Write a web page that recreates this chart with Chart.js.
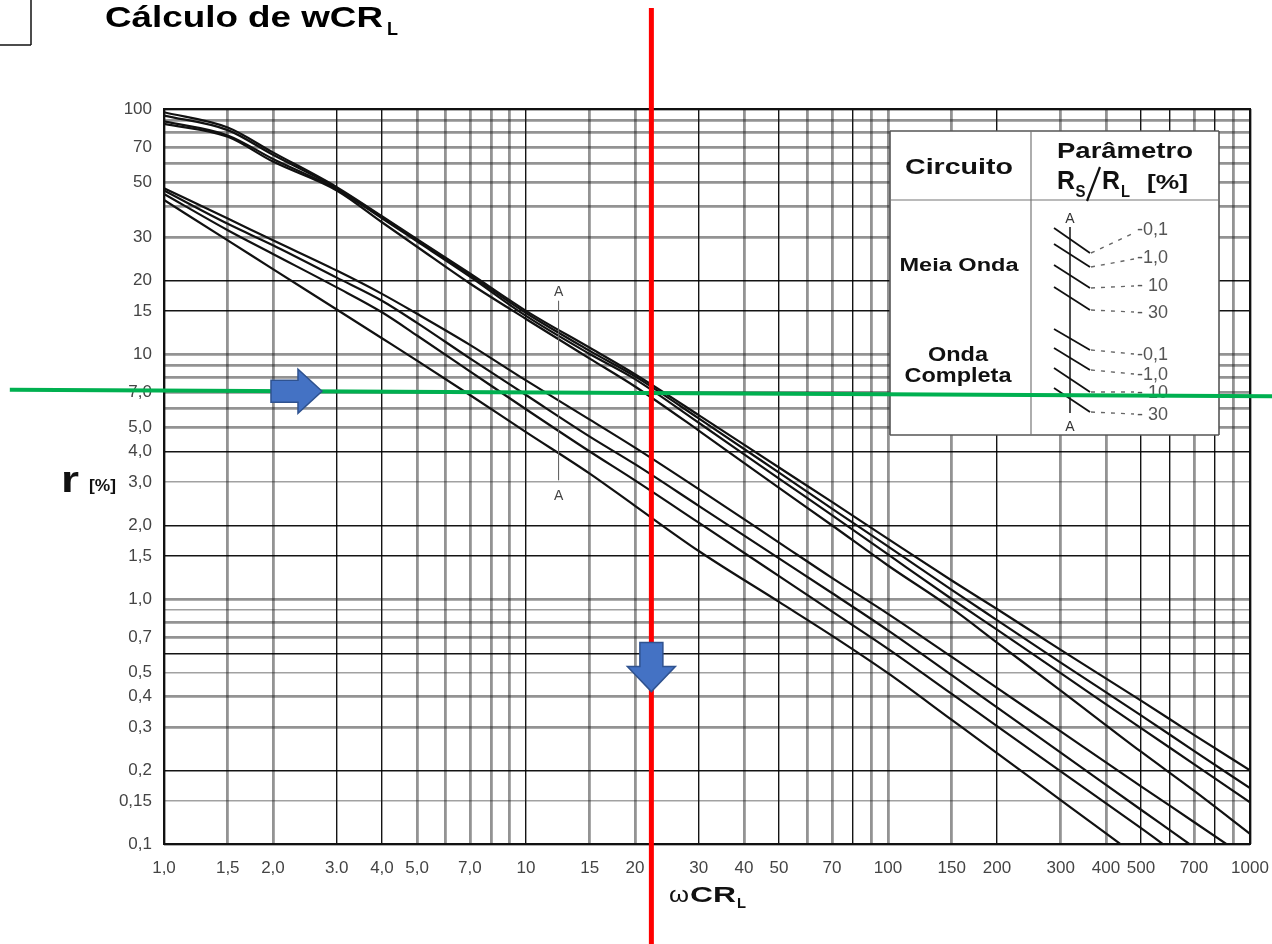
<!DOCTYPE html>
<html>
<head>
<meta charset="utf-8">
<script src="https://cdn.jsdelivr.net/npm/chart.js@4.4.1/dist/chart.umd.min.js"></script>
<style>
  html, body { margin: 0; padding: 0; background: #fff; }
  #wrap { position: relative; width: 1272px; height: 944px; }
</style>
</head>
<body>
<div id="wrap"><canvas id="chart"></canvas></div>
<script>
// ωCRL sample points shared by every curve
const OMEGA_CRL = [1, 1.5, 2, 3, 4, 5, 7, 10, 15, 20, 30, 50, 70, 100, 150, 200, 300, 500, 700, 1000];

// Meia onda (half-wave) ripple r [%] for RS/RL = 0,1 / 1,0 / 10 / 30 %
const HALF_0_1 = [97, 84, 66.5, 48, 36.5, 29.4, 21.3, 15.0, 10.6, 8.27, 5.63, 3.44, 2.49, 1.76, 1.19, 0.91, 0.62, 0.385, 0.279, 0.20];
const HALF_1   = [94, 82, 65, 47.5, 36.2, 29.2, 21.0, 14.7, 10.3, 8.1, 5.46, 3.28, 2.34, 1.64, 1.09, 0.82, 0.55, 0.335, 0.24, 0.169];
const HALF_10  = [89, 78, 62.5, 47, 35.8, 28.8, 20.7, 14.3, 10.0, 7.9, 5.24, 3.1, 2.2, 1.52, 1.0, 0.75, 0.498, 0.297, 0.212, 0.148];
const HALF_30  = [87, 77, 61, 46.5, 34.5, 27.4, 19.4, 13.9, 9.58, 7.37, 4.87, 2.84, 2.0, 1.37, 0.915, 0.664, 0.423, 0.238, 0.165, 0.11];

// Onda completa (full-wave) ripple r [%] for the same RS/RL values
const FULL_0_1 = [47.5, 35.7, 29.1, 21.9, 17.6, 14.6, 10.9, 7.8, 5.4, 4.15, 2.81, 1.70, 1.22, 0.87, 0.58, 0.434, 0.288, 0.172, 0.123, 0.086];
const FULL_1   = [46.5, 34.0, 27.8, 20.5, 16.5, 13.4, 9.6, 6.8, 4.6, 3.55, 2.40, 1.465, 1.058, 0.745, 0.489, 0.361, 0.236, 0.138, 0.097, 0.066];
const FULL_10  = [45, 32.0, 25.6, 18.7, 14.8, 11.9, 8.5, 5.95, 4.0, 3.05, 2.05, 1.24, 0.89, 0.626, 0.41, 0.303, 0.198, 0.116, 0.081, 0.057];
const FULL_30  = [42.5, 29.1, 22.2, 15.2, 11.6, 9.4, 6.8, 4.8, 3.25, 2.4, 1.57, 0.973, 0.709, 0.498, 0.321, 0.235, 0.151, 0.0865, 0.059, 0.04];

const RS_RL_LABELS = ['-0,1', '-1,0', '- 10', '- 30'];

// grid values and tick texts
const X_GRID = [1, 1.5, 2, 3, 4, 5, 6, 7, 8, 9, 10, 15, 20, 30, 40, 50, 60, 70, 80, 90, 100, 150, 200, 300, 400, 500, 600, 700, 800, 900, 1000];
const Y_GRID = [0.1, 0.15, 0.2, 0.3, 0.4, 0.5, 0.6, 0.7, 0.8, 0.9, 1, 1.5, 2, 3, 4, 5, 6, 7, 8, 9, 10, 15, 20, 30, 40, 50, 60, 70, 80, 90, 100];
const X_TICK_TEXT = { 1: '1,0', 1.5: '1,5', 2: '2,0', 3: '3.0', 4: '4,0', 5: '5,0', 7: '7,0', 10: '10', 15: '15', 20: '20',
  30: '30', 40: '40', 50: '50', 70: '70', 100: '100', 150: '150', 200: '200', 300: '300', 400: '400', 500: '500', 700: '700', 1000: '1000' };
const Y_TICK_TEXT = { 100: '100', 70: '70', 50: '50', 30: '30', 20: '20', 15: '15', 10: '10', 7: '7,0', 5: '5,0', 4: '4,0', 3: '3,0',
  2: '2,0', 1.5: '1,5', 1: '1,0', 0.7: '0,7', 0.5: '0,5', 0.4: '0,4', 0.3: '0,3', 0.2: '0,2', 0.15: '0,15', 0.1: '0,1' };

// worked example: ωCRL read for r = 7 %
const GUIDE_WCRL = 22.2;
const GUIDE_R_ENDS = [7.15, 6.72];
const GUIDE_X_ENDS = [0.375, 1160];
const ARROW_RIGHT_AT = 2.33;   // ωCRL where the horizontal arrow sits
const ARROW_DOWN_AT = 0.53;    // r where the vertical arrow sits

// A–A reading marker inside the plot
const MARK_A_X = 12.3;
const MARK_A_R = [16.5, 3.05];

// gridline weights
const X_GRID_DARK = new Set([3, 4, 10, 30, 50, 80, 200, 500, 600, 800]);
const Y_GRID_DARK = new Set([0.2, 0.6, 1.5, 2, 4, 15, 20]);
const Y_GRID_LIGHT = new Set([0.15, 0.5, 0.9, 3]);
const GRID_STYLE = {
  dark:  { color: 'rgba(0,0,0,0.92)', width: 1.4 },
  soft:  { color: 'rgba(30,30,30,0.48)', width: 2.8 },
  light: { color: 'rgba(30,30,30,0.42)', width: 1.6 }
};
function gridKind(v, dark, light) {
  if (dark.has(v)) return 'dark';
  if (light && light.has(v)) return 'light';
  return 'soft';
}

const FONT = '"Liberation Sans", Arial, Helvetica, sans-serif';

function series(label, values) {
  return {
    label,
    data: OMEGA_CRL.map((x, i) => ({ x, y: values[i] })),
    borderColor: '#111',
    borderWidth: 2.2,
    pointRadius: 0,
    fill: false,
    cubicInterpolationMode: 'monotone'
  };
}

// text squeezed/stretched horizontally to a given width
function fitText(ctx, txt, x, y, font, width, align, color) {
  ctx.save();
  ctx.font = font;
  ctx.fillStyle = color || '#000';
  ctx.textBaseline = 'alphabetic';
  ctx.textAlign = align || 'left';
  const w = ctx.measureText(txt).width;
  const s = width ? width / w : 1;
  ctx.translate(x, y);
  ctx.scale(s, 1);
  ctx.fillText(txt, 0, 0);
  ctx.restore();
}

function line(ctx, x1, y1, x2, y2, color, width, dash) {
  ctx.save();
  ctx.strokeStyle = color;
  ctx.lineWidth = width;
  ctx.setLineDash(dash || []);
  ctx.beginPath();
  ctx.moveTo(x1, y1);
  ctx.lineTo(x2, y2);
  ctx.stroke();
  ctx.restore();
}

function arrowRight(ctx, tipX, cy) {
  const bodyLen = 27, headLen = 24, bodyH = 11, headH = 22;
  const x0 = tipX - headLen - bodyLen, xb = tipX - headLen;
  ctx.save();
  ctx.beginPath();
  ctx.moveTo(x0, cy - bodyH);
  ctx.lineTo(xb, cy - bodyH);
  ctx.lineTo(xb, cy - headH);
  ctx.lineTo(tipX, cy);
  ctx.lineTo(xb, cy + headH);
  ctx.lineTo(xb, cy + bodyH);
  ctx.lineTo(x0, cy + bodyH);
  ctx.closePath();
  ctx.fillStyle = '#4472C4';
  ctx.fill();
  ctx.strokeStyle = '#2F528F';
  ctx.lineWidth = 1.5;
  ctx.stroke();
  ctx.restore();
}

function arrowDown(ctx, cx, tipY) {
  const bodyLen = 24, headLen = 25, bodyW = 11.5, headW = 24;
  const y0 = tipY - headLen - bodyLen, yb = tipY - headLen;
  ctx.save();
  ctx.beginPath();
  ctx.moveTo(cx - bodyW, y0);
  ctx.lineTo(cx + bodyW, y0);
  ctx.lineTo(cx + bodyW, yb);
  ctx.lineTo(cx + headW, yb);
  ctx.lineTo(cx, tipY);
  ctx.lineTo(cx - headW, yb);
  ctx.lineTo(cx - bodyW, yb);
  ctx.closePath();
  ctx.fillStyle = '#4472C4';
  ctx.fill();
  ctx.strokeStyle = '#2F528F';
  ctx.lineWidth = 1.5;
  ctx.stroke();
  ctx.restore();
}

function drawLegendBox(ctx) {
  const L = 890, R = 1219, T = 131, B = 435, MID = 1031, HEAD = 200;
  ctx.save();
  ctx.fillStyle = '#fff';
  ctx.fillRect(L, T, R - L, B - T);
  ctx.restore();
  line(ctx, L, T, R, T, '#555', 1.6);
  line(ctx, L, B, R, B, '#555', 1.6);
  line(ctx, L, T, L, B, '#555', 1.6);
  line(ctx, R, T, R, B, '#555', 1.6);
  line(ctx, MID, T, MID, B, '#777', 1.2);
  line(ctx, L, HEAD, R, HEAD, '#777', 1.2);

  fitText(ctx, 'Circuito', 959, 174, 'bold 22px ' + FONT, 108, 'center', '#111');
  fitText(ctx, 'Parâmetro', 1057, 158, 'bold 22px ' + FONT, 136, 'left', '#111');
  fitText(ctx, 'R', 1057, 189, 'bold 25px ' + FONT, 18, 'left', '#111');
  fitText(ctx, 'S', 1075.5, 197, 'bold 16px ' + FONT, 10, 'left', '#111');
  line(ctx, 1087, 201, 1100, 167, '#111', 2.2);
  fitText(ctx, 'R', 1102, 189, 'bold 25px ' + FONT, 18, 'left', '#111');
  fitText(ctx, 'L', 1121, 197, 'bold 16px ' + FONT, 9, 'left', '#111');
  fitText(ctx, '[%]', 1147, 189, 'bold 21px ' + FONT, 41, 'left', '#111');

  fitText(ctx, 'Meia Onda', 959, 271, 'bold 18px ' + FONT, 119, 'center', '#111');
  fitText(ctx, 'Onda', 958, 361, 'bold 20px ' + FONT, 60, 'center', '#111');
  fitText(ctx, 'Completa', 958, 382, 'bold 20px ' + FONT, 107, 'center', '#111');

  // RS/RL key: A–A axis, curve strokes, leaders and values
  line(ctx, 1070, 227, 1070, 413, '#222', 1.6);
  fitText(ctx, 'A', 1070, 223, '14px ' + FONT, 0, 'center', '#333');
  fitText(ctx, 'A', 1070, 431, '14px ' + FONT, 0, 'center', '#333');
  const halfStrokes = [[228, 253], [244, 267], [265, 288], [287, 310]];
  const halfLeaders = [[253, 233], [267, 259], [288, 286], [310, 312]];
  const halfText = [235, 263, 291, 318];
  const fullStrokes = [[329, 350], [348, 370], [368, 392], [388, 412]];
  const fullLeaders = [[350, 354], [370, 374], [392, 392], [412, 414]];
  const fullText = [360, 380, 398, 420];
  for (let i = 0; i < 4; i++) {
    line(ctx, 1054, halfStrokes[i][0], 1090, halfStrokes[i][1], '#111', 1.8);
    line(ctx, 1091, halfLeaders[i][0], 1134, halfLeaders[i][1], '#666', 1.4, [4, 6]);
    fitText(ctx, RS_RL_LABELS[i], 1137, halfText[i], '18px ' + FONT, 0, 'left', '#555');
    line(ctx, 1054, fullStrokes[i][0], 1090, fullStrokes[i][1], '#111', 1.8);
    line(ctx, 1091, fullLeaders[i][0], 1134, fullLeaders[i][1], '#666', 1.4, [4, 6]);
    fitText(ctx, RS_RL_LABELS[i], 1137, fullText[i], '18px ' + FONT, 0, 'left', '#555');
  }
}

const sheetPlugin = {
  id: 'sheet',
  beforeDraw(chart) {
    const ctx = chart.ctx;
    ctx.save();
    ctx.fillStyle = '#fff';
    ctx.fillRect(0, 0, chart.width, chart.height);
    ctx.restore();
  },
  afterDatasetsDraw(chart) {
    const ctx = chart.ctx;
    const a = chart.chartArea;
    const xs = chart.scales.x, ys = chart.scales.y;

    // plot frame
    ctx.save();
    ctx.strokeStyle = '#111';
    ctx.lineWidth = 2;
    ctx.strokeRect(a.left, a.top, a.right - a.left, a.bottom - a.top);
    ctx.restore();

    // A–A marker
    const mx = xs.getPixelForValue(MARK_A_X);
    const my1 = ys.getPixelForValue(MARK_A_R[0]);
    const my2 = ys.getPixelForValue(MARK_A_R[1]);
    line(ctx, mx, my1, mx, my2, '#666', 1.1);
    fitText(ctx, 'A', mx, my1 - 5, '14px ' + FONT, 0, 'center', '#444');
    fitText(ctx, 'A', mx, my2 + 20, '14px ' + FONT, 0, 'center', '#444');

    drawLegendBox(ctx);
  },
  afterDraw(chart) {
    const ctx = chart.ctx;
    const xs = chart.scales.x, ys = chart.scales.y;

    // title
    fitText(ctx, 'Cálculo de wCR', 105, 27, 'bold 30px ' + FONT, 278, 'left', '#000');
    fitText(ctx, 'L', 387, 35, 'bold 18px ' + FONT, 11, 'left', '#000');
    line(ctx, 31, 0, 31, 45, '#111', 1.5);
    line(ctx, 0, 45, 31, 45, '#111', 1.5);

    // axis titles
    fitText(ctx, 'r', 61, 492, 'bold 36px ' + FONT, 18, 'left', '#111');
    fitText(ctx, '[%]', 89, 491, 'bold 17px ' + FONT, 27, 'left', '#111');
    fitText(ctx, 'ω', 669, 902, '22px ' + FONT, 20, 'left', '#111');
    fitText(ctx, 'CR', 690, 902, 'bold 22px ' + FONT, 46, 'left', '#111');
    fitText(ctx, 'L', 737, 908, 'bold 14px ' + FONT, 9, 'left', '#111');

    // guide lines of the worked example
    const gx1 = xs.getPixelForValue(GUIDE_X_ENDS[0]), gx2 = xs.getPixelForValue(GUIDE_X_ENDS[1]);
    const gy1 = ys.getPixelForValue(GUIDE_R_ENDS[0]), gy2 = ys.getPixelForValue(GUIDE_R_ENDS[1]);
    line(ctx, gx1, gy1, gx2, gy2, '#00B050', 4);
    const rx = xs.getPixelForValue(GUIDE_WCRL);
    line(ctx, rx, 8, rx, chart.height, '#FF0000', 5);

    // arrows riding on the guides
    const ax = xs.getPixelForValue(ARROW_RIGHT_AT);
    const ay = gy1 + (gy2 - gy1) * (ax - gx1) / (gx2 - gx1);
    arrowRight(ctx, ax + 25, ay);
    const dy = ys.getPixelForValue(ARROW_DOWN_AT);
    arrowDown(ctx, rx, dy + 25);
  }
};

new Chart(document.getElementById('chart'), {
  type: 'line',
  data: {
    datasets: [
      series('Meia Onda 0,1 %', HALF_0_1),
      series('Meia Onda 1,0 %', HALF_1),
      series('Meia Onda 10 %', HALF_10),
      series('Meia Onda 30 %', HALF_30),
      series('Onda Completa 0,1 %', FULL_0_1),
      series('Onda Completa 1,0 %', FULL_1),
      series('Onda Completa 10 %', FULL_10),
      series('Onda Completa 30 %', FULL_30)
    ]
  },
  options: {
    responsive: true,
    maintainAspectRatio: false,
    animation: false,
    layout: { padding: { top: 109, right: 22, bottom: 0, left: 0 } },
    plugins: { legend: { display: false }, tooltip: { enabled: false } },
    scales: {
      x: {
        type: 'logarithmic',
        min: 1,
        max: 1000,
        afterBuildTicks: s => { s.ticks = X_GRID.map(v => ({ value: v })); },
        afterFit: s => { s.height = 100; s.paddingLeft = 0; s.paddingRight = 0; },
        border: { display: false },
        grid: {
          drawTicks: false,
          color: c => GRID_STYLE[gridKind(c.tick.value, X_GRID_DARK)].color,
          lineWidth: c => GRID_STYLE[gridKind(c.tick.value, X_GRID_DARK)].width
        },
        ticks: {
          autoSkip: false, maxRotation: 0, minRotation: 0, padding: 14,
          color: '#444', font: { family: FONT, size: 17 },
          callback: v => X_TICK_TEXT[v] ?? ''
        }
      },
      y: {
        type: 'logarithmic',
        min: 0.1,
        max: 100,
        afterBuildTicks: s => { s.ticks = Y_GRID.map(v => ({ value: v })); },
        afterFit: s => { s.width = 164; s.paddingTop = 0; s.paddingBottom = 0; },
        border: { display: false },
        grid: {
          drawTicks: false,
          color: c => GRID_STYLE[gridKind(c.tick.value, Y_GRID_DARK, Y_GRID_LIGHT)].color,
          lineWidth: c => GRID_STYLE[gridKind(c.tick.value, Y_GRID_DARK, Y_GRID_LIGHT)].width
        },
        ticks: {
          autoSkip: false, padding: 12,
          color: '#444', font: { family: FONT, size: 17 },
          callback: v => Y_TICK_TEXT[v] ?? ''
        }
      }
    }
  },
  plugins: [sheetPlugin]
});
</script>
</body>
</html>
